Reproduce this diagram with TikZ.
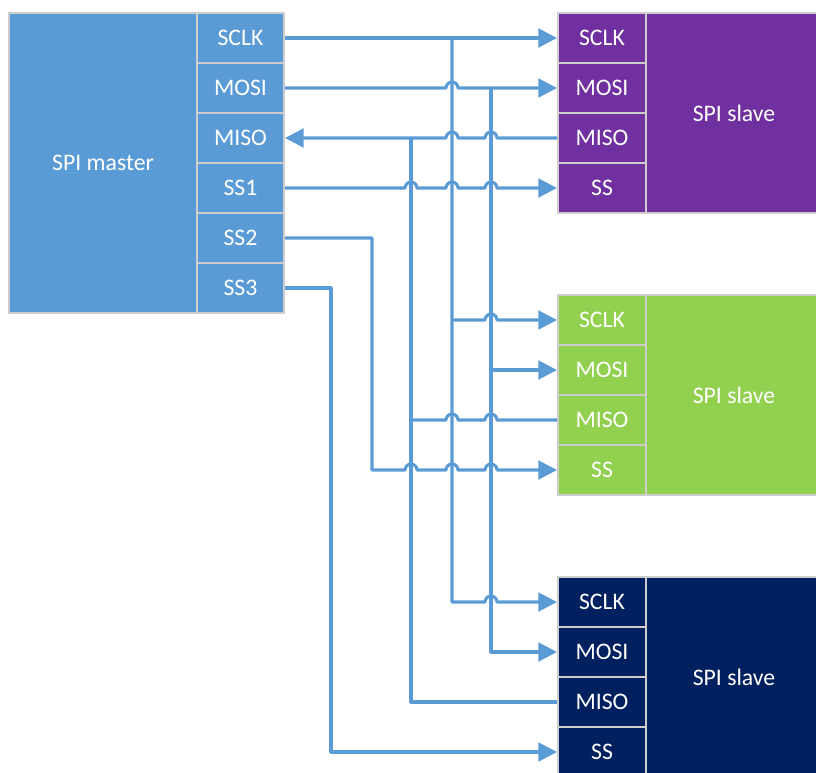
\documentclass[tikz,border=0pt]{standalone}
\usepackage{fontspec}
\setmainfont{Carlito}
\usetikzlibrary{positioning}
\usetikzlibrary{calc}
\usetikzlibrary{arrows.meta}
\definecolor{lineblue}{RGB}{91,155,213}
\definecolor{slavepurple}{RGB}{112,48,160}
\definecolor{slavegreen}{RGB}{146,208,80}
\definecolor{slavenavy}{RGB}{0,32,96}
\definecolor{edgegray}{RGB}{205,205,205}
\newcommand{\hopr}{4.5pt}
\newcommand{\hop}[2]{-- ($(#1 -| #2)+(-6,0)$) arc[start angle=180,end angle=0,radius=\hopr]}

\begin{document}
\begin{tikzpicture}[x=0.75pt, y=-0.75pt,
    every node/.style={font=\fontsize{17.8}{21}\selectfont, text=white},
    box/.style={draw=edgegray, line width=1.5pt, rectangle, inner sep=0pt},
    masterpin/.style={box, fill=lineblue, minimum width=65.25pt, minimum height=37.5pt},
    slavepin/.style={box, minimum width=66pt, minimum height=37.5pt},
    slavebody/.style={box, minimum width=132pt, minimum height=150pt},
    wire/.style={draw=lineblue, line width=2.3pt, line join=round},
    sigarrow/.style={-{Triangle[length=14pt, width=14pt]}},
    sigback/.style={{Triangle[length=14pt, width=14pt]}-}]
    \useasboundingbox (0,0) rectangle (816,772);
    % master
    \node[box, fill=lineblue, minimum width=141pt, minimum height=225pt] (mbody) at (103,163) {SPI master};
    \foreach \w [count=\i] in {SCLK,MOSI,MISO,SS1,SS2,SS3} {
        \node[masterpin] (m\w) at (240.5, {38+(\i-1)*50}) {\w};
    }
    % slaves
    \foreach \s/\top/\col in {1/13/slavepurple, 2/295/slavegreen, 3/577/slavenavy} {
        \node[slavebody, fill=\col] (s\s) at (734, \top+100) {SPI slave};
        \foreach \w [count=\i] in {SCLK,MOSI,MISO,SS} {
            \node[slavepin, fill=\col] (s\s\w) at (602, {\top+25+(\i-1)*50}) {\w};
        }
    }
    % vertical buses
    \coordinate (busSSthree) at (331,0);
    \coordinate (busSStwo) at (372,0);
    \coordinate (busMISO) at (411,0);
    \coordinate (busSCLK) at (452,0);
    \coordinate (busMOSI) at (491,0);
    % SCLK
    \draw[wire, sigarrow] (mSCLK.east) -- (s1SCLK.west);
    \draw[wire, sigarrow] (mSCLK.east -| busSCLK) -- (s3SCLK.west -| busSCLK) \hop{s3SCLK.west}{busMOSI} -- (s3SCLK.west);
    \draw[wire, sigarrow] (s2SCLK.west -| busSCLK) \hop{s2SCLK.west}{busMOSI} -- (s2SCLK.west);
    % MOSI
    \draw[wire, sigarrow] (mMOSI.east) \hop{mMOSI.east}{busSCLK} -- (s1MOSI.west);
    \draw[wire, sigarrow] (mMOSI.east -| busMOSI) |- (s3MOSI.west);
    \draw[wire, sigarrow] (s2MOSI.west -| busMOSI) -- (s2MOSI.west);
    % MISO
    \draw[wire, sigback] (mMISO.east) \hop{mMISO.east}{busSCLK} \hop{mMISO.east}{busMOSI} -- (s1MISO.west);
    \draw[wire] (mMISO.east -| busMISO) |- (s3MISO.west);
    \draw[wire] (s2MISO.west -| busMISO) \hop{s2MISO.west}{busSCLK} \hop{s2MISO.west}{busMOSI} -- (s2MISO.west);
    % slave selects
    \draw[wire, sigarrow] (mSS1.east) \hop{mSS1.east}{busMISO} \hop{mSS1.east}{busSCLK} \hop{mSS1.east}{busMOSI} -- (s1SS.west);
    \draw[wire, sigarrow] (mSS2.east) -- (mSS2.east -| busSStwo) -- (s2SS.west -| busSStwo) \hop{s2SS.west}{busMISO} \hop{s2SS.west}{busSCLK} \hop{s2SS.west}{busMOSI} -- (s2SS.west);
    \draw[wire, sigarrow] (mSS3.east) -- (mSS3.east -| busSSthree) |- (s3SS.west);
\end{tikzpicture}
\end{document}
